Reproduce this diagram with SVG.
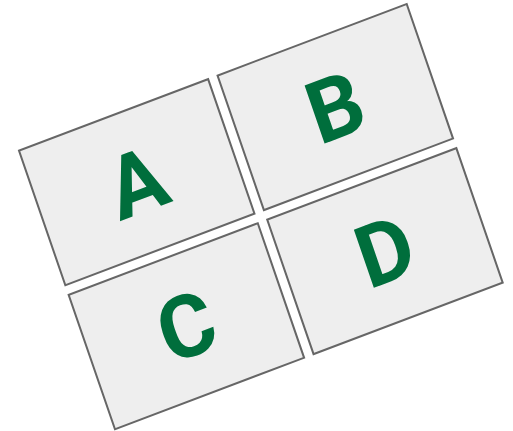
<svg xmlns="http://www.w3.org/2000/svg" width="513" height="431" viewBox="0 0 513 431">
<style>
.cell{fill:#eeeeee;stroke:#666666;stroke-width:2}
.lbl{font-family:Roboto,"Liberation Sans",sans-serif;font-weight:bold;font-size:85px;fill:#006e3c;text-anchor:middle}
</style>
<rect width="513" height="431" fill="#ffffff"/>
<g transform="matrix(0.9456,-0.3578,0.331,0.9607,19,150.7)">
<g id="A"><rect class="cell" x="0" y="0" width="200" height="140"/><text class="lbl" x="100" y="100">A</text></g>
<g id="B"><rect class="cell" x="210" y="0" width="200" height="140"/><text class="lbl" x="310" y="100">B</text></g>
<g id="C"><rect class="cell" x="0" y="150" width="200" height="140"/><text class="lbl" x="100" y="250">C</text></g>
<g id="D"><rect class="cell" x="210" y="150" width="200" height="140"/><text class="lbl" x="310" y="250">D</text></g>
<g id="connectors"/>
</g>
</svg>
